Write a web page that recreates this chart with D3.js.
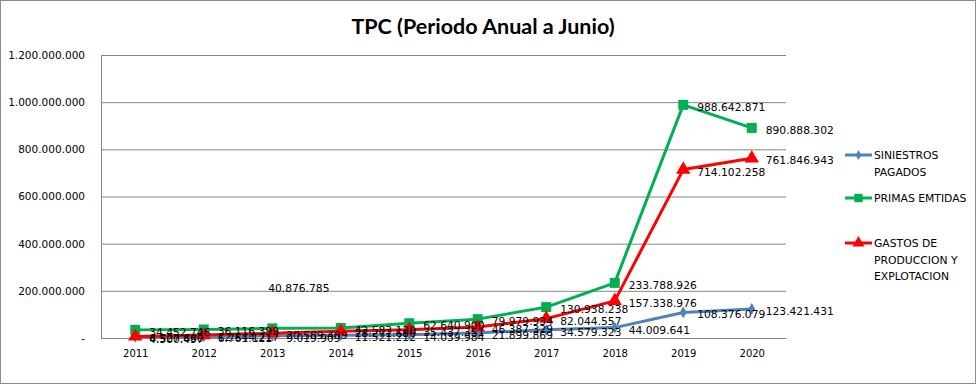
<!DOCTYPE html>
<html>
<head>
<meta charset="utf-8">
<script src="https://cdn.jsdelivr.net/npm/d3@7"></script>
<style>
  body { margin: 0; background: #fff; }
  svg text { font-family: "DejaVu Sans", sans-serif; }
</style>
</head>
<body>
<div class="container"></div>
<script>
// chart data
let years = ["2011", "2012", "2013", "2014", "2015", "2016", "2017", "2018", "2019", "2020"];
let siniestros = [4500497, 6761121, 9019909, 11521212, 14039984, 21899869, 34579323, 44009641, 108376079, 123421431];
let primas = [34452746, 36116399, 40876785, 42583120, 62640900, 79979934, 130938238, 233788926, 988642871, 890888302];
let gastos = [6527680, 12544217, 20589489, 28271680, 35437351, 46387329, 82044557, 157338976, 714102258, 761846943];
let yTicks = [0, 200000000, 400000000, 600000000, 800000000, 1000000000, 1200000000];

let series = [
  { name: ["SINIESTROS", "PAGADOS"], values: siniestros, color: "#4f81bd", marker: "diamond" },
  { name: ["PRIMAS EMTIDAS"], values: primas, color: "#00b050", marker: "square" },
  { name: ["GASTOS DE", "PRODUCCION Y", "EXPLOTACION"], values: gastos, color: "#ff0000", marker: "triangle" }
];

let locale = d3.formatLocale({ decimal: ",", thousands: ".", grouping: [3], currency: ["", ""] });
let fmt = locale.format(",d");

let svg = d3.select(".container")
  .append("svg")
  .attr("width", 977)
  .attr("height", 385);

svg.append("rect")
  .attr("x", 0.5).attr("y", 0.5)
  .attr("width", 975).attr("height", 383)
  .attr("fill", "#fff")
  .attr("stroke", "#8c8c8c");

let plotLeft = 101, plotRight = 786, plotTop = 55, plotBottom = 338;

let x = d3.scalePoint()
  .domain(years)
  .range([plotLeft, plotRight])
  .padding(0.5);

let y = d3.scaleLinear()
  .domain([0, 1200000000])
  .range([plotBottom, plotTop]);

// title
svg.append("text")
  .attr("x", 483)
  .attr("y", 34)
  .attr("text-anchor", "middle")
  .style("font-family", "Lato, sans-serif")
  .style("font-weight", "bold")
  .style("font-size", "21.5px")
  .text("TPC (Periodo Anual a Junio)");

// gridlines + y axis
let yAxis = svg.append("g")
  .attr("transform", `translate(${plotLeft},0)`)
  .call(d3.axisLeft(y)
    .tickValues(yTicks)
    .tickSize(-(plotRight - plotLeft))
    .tickPadding(16)
    .tickFormat(d => d === 0 ? "-" : fmt(d)));

yAxis.select(".domain").remove();
yAxis.selectAll(".tick line")
  .attr("stroke", "#868686");
yAxis.selectAll(".tick text")
  .attr("fill", "#000")
  .style("font-size", "10.5px");

svg.append("line")
  .attr("x1", plotLeft + 0.5).attr("x2", plotLeft + 0.5)
  .attr("y1", plotTop).attr("y2", plotBottom)
  .attr("stroke", "#868686");

// x axis
let xAxis = svg.append("g")
  .attr("transform", `translate(0,${plotBottom})`)
  .call(d3.axisBottom(x).tickSize(0).tickPadding(12));

xAxis.select(".domain")
  .attr("stroke", "#868686");
xAxis.selectAll(".tick text")
  .attr("fill", "#000")
  .style("font-size", "10px");

function markerPath(type, k = 1) {
  if (type === "diamond") return d3.symbol().type(d3.symbolDiamond).size(40 * k)();
  if (type === "square") return d3.symbol().type(d3.symbolSquare).size(100 * k)();
  return d3.symbol().type(d3.symbolTriangle).size(90 * k)();
}

let line = d3.line()
  .x((d, i) => x(years[i]))
  .y(d => y(d));

series.forEach(s => {
  svg.append("path")
    .datum(s.values)
    .attr("fill", "none")
    .attr("stroke", s.color)
    .attr("stroke-width", 3)
    .attr("stroke-linejoin", "round")
    .attr("d", line);

  svg.selectAll(null)
    .data(s.values)
    .enter().append("path")
    .attr("transform", (d, i) => `translate(${x(years[i])},${y(d)})`)
    .attr("fill", s.color)
    .attr("d", markerPath(s.marker));
});

// data labels
series.forEach(s => {
  svg.selectAll(null)
    .data(s.values)
    .enter().append("text")
    .attr("x", (d, i) => x(years[i]) + (s.marker === "square" && i === 2 ? -4 : 14))
    .attr("y", (d, i) => y(d) + (s.marker === "square" && i === 2 ? -36 : 6))
    .attr("fill", "#000")
    .style("font-size", "10.7px")
    .text(d => fmt(d));
});

// legend
let legend = svg.append("g")
  .attr("id", "legend");

let legendY = [155, 198, 243];

series.forEach((s, i) => {
  let row = legend.append("g")
    .attr("transform", `translate(845,${legendY[i]})`);

  row.append("line")
    .attr("x1", 0).attr("x2", 27)
    .attr("stroke", s.color)
    .attr("stroke-width", 3);

  row.append("path")
    .attr("transform", "translate(13.5,0)")
    .attr("fill", s.color)
    .attr("d", markerPath(s.marker, 0.7));

  s.name.forEach((t, j) => {
    row.append("text")
      .attr("x", 29)
      .attr("y", 4 + j * 16.5)
      .style("font-size", "10.8px")
      .text(t);
  });
});
</script>
</body>
</html>
